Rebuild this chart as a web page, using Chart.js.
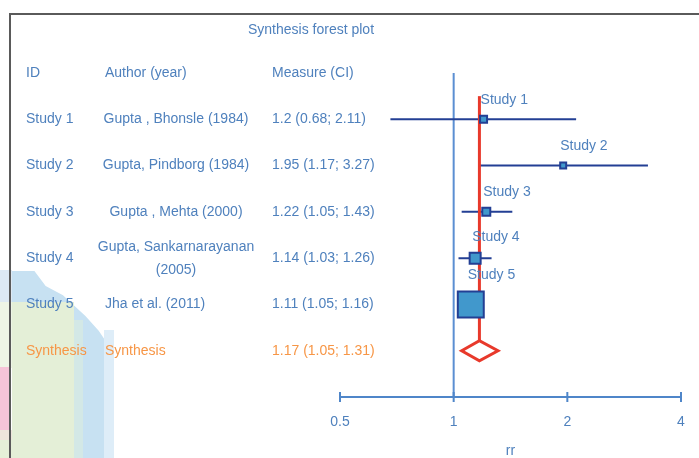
<!DOCTYPE html>
<html>
<head>
<meta charset="utf-8">
<script src="https://cdn.jsdelivr.net/npm/chart.js@4.4.1/dist/chart.umd.min.js"></script>
<style>
  html, body { margin: 0; padding: 0; background: #fff; }
  #wrap { position: relative; width: 699px; height: 458px; overflow: hidden; }
  .blob { position: absolute; }
  #frame { position: absolute; left: 9px; top: 13px; width: 700px; height: 460px;
           border-top: 2px solid #5a5a5a; border-left: 2px solid #5a5a5a; }
  canvas { position: absolute; left: 0; top: 0; }
</style>
</head>
<body>
<div id="wrap">
  <!-- 배경 얼룩 -->
  <div class="blob" style="left:0;top:270px;width:12px;height:32px;background:#dde9f4"></div>
  <div class="blob" style="left:0;top:302px;width:12px;height:66px;background:#eef5e6"></div>
  <div class="blob" style="left:0;top:367px;width:9px;height:63px;background:#f6c4d8"></div>
  <div class="blob" style="left:0;top:430px;width:12px;height:10px;background:#eee5dc"></div>
  <div class="blob" style="left:0;top:440px;width:12px;height:18px;background:#e5f0d8"></div>
  <div class="blob" style="left:12px;top:271px;width:102px;height:187px;background:#c7e1f2;
       clip-path:polygon(0 0,22% 0,33% 8%,50% 13%,60% 18%,72% 24%,85% 32%,95% 40%,100% 50%,100% 100%,0 100%)"></div>
  <div class="blob" style="left:12px;top:302px;width:62px;height:156px;background:#e4efd7"></div>
  <div class="blob" style="left:74px;top:320px;width:9px;height:138px;background:#d3e8e6"></div>
  <div class="blob" style="left:104px;top:330px;width:10px;height:128px;background:#deedf8"></div>
  <canvas id="forest" width="699" height="458"></canvas>
  <div id="frame"></div>
</div>
<script>
// 연구 데이터
const ids = ['Study 1', 'Study 2', 'Study 3', 'Study 4', 'Study 5'];
const authors = ['Gupta , Bhonsle (1984)', 'Gupta, Pindborg (1984)', 'Gupta , Mehta (2000)',
                 'Gupta, Sankarnarayanan\n(2005)', 'Jha et al. (2011)'];
const rr = [1.2, 1.95, 1.22, 1.14, 1.11];
const lower = [0.68, 1.17, 1.05, 1.03, 1.05];
const upper = [2.11, 3.27, 1.43, 1.26, 1.16];
const weights = [5.2, 3.8, 6.8, 12.8, 71.5];
const measures = ['1.2 (0.68; 2.11)', '1.95 (1.17; 3.27)', '1.22 (1.05; 1.43)',
                  '1.14 (1.03; 1.26)', '1.11 (1.05; 1.16)'];

// 통합 결과
const synthRR = 1.17;
const synthLower = 1.05;
const synthUpper = 1.31;
const synthText = '1.17 (1.05; 1.31)';

const xTicks = [0.5, 1, 2, 4];

const BLUE = '#4f81bd';
const ORANGE = '#f79646';
const NAVY = '#233f94';
const RED = '#e8392b';
const FONT = '14px "Liberation Sans", Arial, sans-serif';

function boxSide(w) { return Math.sqrt(w) * 3.07; }

// 표, 선, 다이아몬드 그리기
const forestPlugin = {
    id: 'forest',
    beforeDatasetsDraw(chart) {
        const ctx = chart.ctx;
        const xs = chart.scales.x, ys = chart.scales.y;
        const area = chart.chartArea;
        ctx.save();
        // 기준선 (rr = 1)
        ctx.strokeStyle = '#5b8fd2';
        ctx.lineWidth = 2;
        ctx.beginPath();
        ctx.moveTo(xs.getPixelForValue(1), area.top);
        ctx.lineTo(xs.getPixelForValue(1), area.bottom);
        ctx.stroke();
        // 축 눈금
        ctx.strokeStyle = '#4f86c9';
        ctx.lineWidth = 2;
        ctx.beginPath();
        ctx.moveTo(xs.getPixelForValue(xTicks[0]), area.bottom);
        ctx.lineTo(xs.getPixelForValue(xTicks[xTicks.length - 1]), area.bottom);
        xTicks.forEach(v => {
            const px = xs.getPixelForValue(v);
            ctx.moveTo(px, area.bottom - 5);
            ctx.lineTo(px, area.bottom + 5);
        });
        ctx.stroke();
        // 신뢰구간
        ctx.strokeStyle = NAVY;
        ctx.lineWidth = 2;
        rr.forEach((v, i) => {
            const py = ys.getPixelForValue(i);
            ctx.beginPath();
            ctx.moveTo(xs.getPixelForValue(lower[i]), py);
            ctx.lineTo(xs.getPixelForValue(upper[i]), py);
            ctx.stroke();
        });
        // 통합 추정치 선
        const sy = ys.getPixelForValue(ids.length);
        ctx.strokeStyle = RED;
        ctx.lineWidth = 3;
        ctx.beginPath();
        ctx.moveTo(xs.getPixelForValue(synthRR), ys.getPixelForValue(-0.5));
        ctx.lineTo(xs.getPixelForValue(synthRR), sy - 10);
        ctx.stroke();
        ctx.restore();
    },
    afterDatasetsDraw(chart) {
        const ctx = chart.ctx;
        const xs = chart.scales.x, ys = chart.scales.y;
        ctx.save();
        // 다이아몬드
        const sy = ys.getPixelForValue(ids.length);
        ctx.strokeStyle = RED;
        ctx.fillStyle = '#fff';
        ctx.lineWidth = 3;
        ctx.lineJoin = 'miter';
        ctx.beginPath();
        ctx.moveTo(xs.getPixelForValue(synthLower), sy);
        ctx.lineTo(xs.getPixelForValue(synthRR), sy - 10);
        ctx.lineTo(xs.getPixelForValue(synthUpper), sy);
        ctx.lineTo(xs.getPixelForValue(synthRR), sy + 10);
        ctx.closePath();
        ctx.fill();
        ctx.stroke();

        ctx.font = FONT;
        ctx.textBaseline = 'middle';
        // 점 위 라벨
        ctx.fillStyle = BLUE;
        ctx.textAlign = 'left';
        rr.forEach((v, i) => {
            const py = ys.getPixelForValue(i);
            ctx.fillText(ids[i], xs.getPixelForValue(v) - 3, py - boxSide(weights[i]) / 2 - 16);
        });

        // 제목
        ctx.textAlign = 'center';
        ctx.fillText('Synthesis forest plot', 311, 30);

        // 머리글
        const hy = ys.getPixelForValue(-1);
        ctx.textAlign = 'left';
        ctx.fillText('ID', 26, hy);
        ctx.fillText('Author (year)', 105, hy);
        ctx.fillText('Measure (CI)', 272, hy);

        // 표 내용
        ids.forEach((id, i) => {
            const py = ys.getPixelForValue(i);
            ctx.textAlign = 'left';
            ctx.fillText(id, 26, py);
            ctx.fillText(measures[i], 272, py);
            const lines = authors[i].split('\n');
            if (i < 4) {
                ctx.textAlign = 'center';
                lines.forEach((l, k) => {
                    ctx.fillText(l, 176, py + (k - (lines.length - 1) / 2) * 23);
                });
            } else {
                ctx.fillText(lines[0], 105, py);
            }
        });
        ctx.fillStyle = ORANGE;
        ctx.textAlign = 'left';
        ctx.fillText('Synthesis', 26, sy);
        ctx.fillText('Synthesis', 105, sy);
        ctx.fillText(synthText, 272, sy);
        ctx.restore();
    }
};

const ctx = document.getElementById('forest').getContext('2d');
const forestChart = new Chart(ctx, {
    type: 'scatter',
    data: {
        datasets: [{
            data: rr.map((v, i) => ({ x: v, y: i })),
            pointStyle: 'rect',
            pointRadius: weights.map(w => boxSide(w) / 2 / Math.SQRT1_2),
            pointHoverRadius: weights.map(w => boxSide(w) / 2 / Math.SQRT1_2),
            backgroundColor: '#4198cc',
            borderColor: NAVY,
            borderWidth: 2
        }]
    },
    options: {
        responsive: false,
        animation: false,
        events: [],
        layout: { autoPadding: false, padding: { left: 340, right: 18, top: 73, bottom: 0 } },
        plugins: {
            legend: { display: false },
            tooltip: { enabled: false },
            title: { display: false }
        },
        scales: {
            x: {
                type: 'logarithmic',
                min: 0.5,
                max: 4,
                afterBuildTicks: scale => { scale.ticks = xTicks.map(v => ({ value: v })); },
                afterFit: scale => { scale.height = 61; },
                grid: {
                    display: true,
                    drawOnChartArea: false,
                    drawTicks: true,
                    tickLength: 14,
                    color: 'rgba(0,0,0,0)'
                },
                border: { display: false },
                ticks: {
                    callback: v => String(v),
                    color: BLUE,
                    font: { family: '"Liberation Sans", Arial, sans-serif', size: 14 },
                    padding: 3,
                    maxRotation: 0,
                    autoSkip: false
                },
                title: {
                    display: true,
                    text: 'rr',
                    color: BLUE,
                    font: { family: '"Liberation Sans", Arial, sans-serif', size: 14 },
                    padding: { top: 4, bottom: -2 }
                }
            },
            y: {
                display: false,
                min: -1,
                max: 6,
                reverse: true
            }
        }
    },
    plugins: [forestPlugin]
});
</script>
</body>
</html>
